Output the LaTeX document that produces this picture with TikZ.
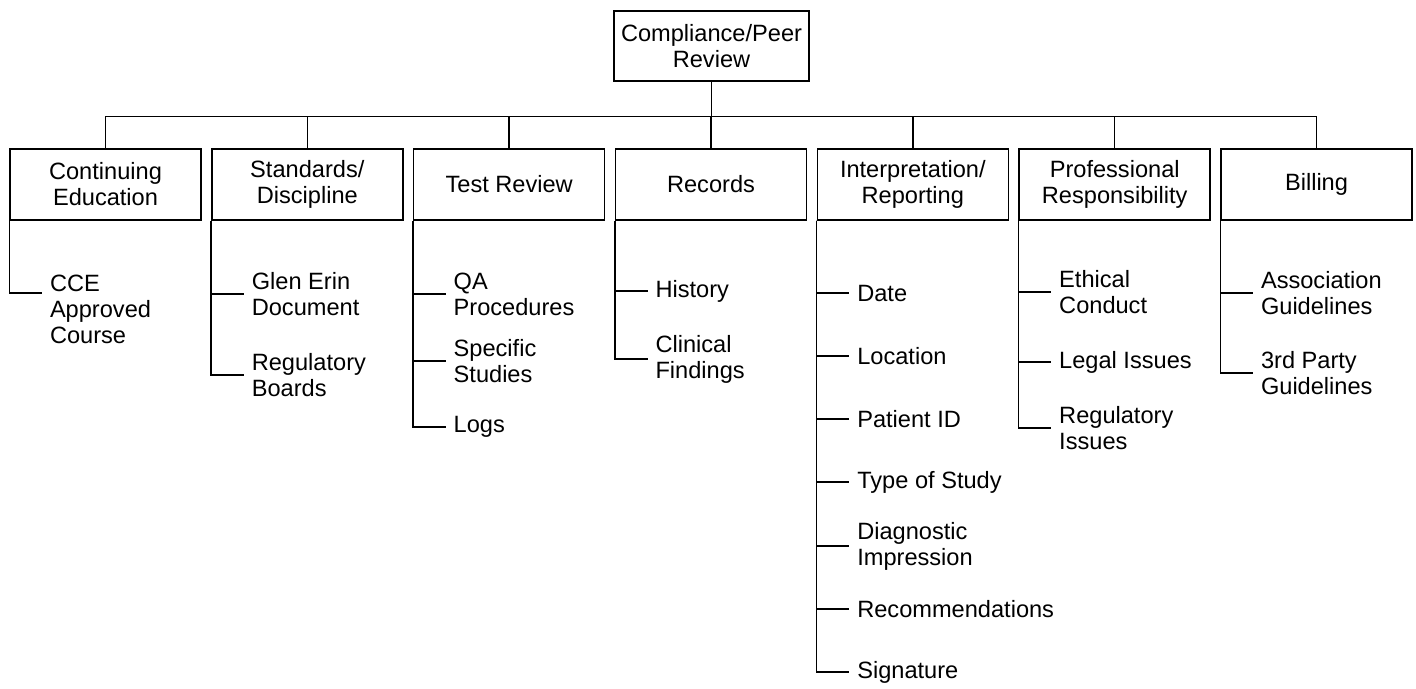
\documentclass[tikz,border=0pt]{standalone}
\usepackage{fontspec}
\setmainfont{Liberation Sans}
\newcommand\dfont{\fontsize{11.8pt}{13pt}\selectfont}
\begin{document}
\begin{tikzpicture}[x=0.5pt,y=-0.5pt,line width=0.75pt,
  box/.style={draw,minimum width=95.5pt,minimum height=35.5pt,inner sep=0pt,align=center,font=\dfont},
  rootbox/.style={box,minimum width=97.5pt,minimum height=35pt},
  leaf/.style={anchor=west,inner sep=0pt,outer xsep=4pt,align=left,font=\dfont}]
\useasboundingbox (0,0) rectangle (1416,689);
% root and categories
\node[rootbox] (root) at (711.5,46) {Compliance/Peer\\Review};
\node[box] (ce)  at (105.5,184.5)  {Continuing\\Education};
\node[box] (sd)  at (307.3,184.5)  {Standards/\\Discipline};
\node[box] (tr)  at (509.2,184.5)  {Test Review};
\node[box] (rec) at (711,184.5)    {Records};
\node[box] (ir)  at (912.8,184.5)  {Interpretation/\\Reporting};
\node[box] (pr)  at (1114.7,184.5) {Professional\\Responsibility};
\node[box] (bil) at (1316.5,184.5) {Billing};
\foreach \c in {ce,sd,tr,rec,ir,pr,bil}
  \draw (root.south) -- ++(0,35) -| (\c.north);
% Continuing Education
\node[leaf,anchor=north west] (cce) at (42,274) {CCE\\Approved\\Course};
\coordinate (cceC) at (42,293);
\draw (ce.south west) |- (cceC);
% Standards/Discipline
\node[leaf] (glen) at (243.8,294) {Glen Erin\\Document};
\node[leaf] (regb) at (243.8,375) {Regulatory\\Boards};
\foreach \l in {glen,regb} \draw (sd.south west) |- (\l.west);
% Test Review
\node[leaf] (qa)   at (445.7,294) {QA\\Procedures};
\node[leaf] (spec) at (445.7,361) {Specific\\Studies};
\node[leaf] (logs) at (445.7,427) {Logs};
\foreach \l in {qa,spec,logs} \draw (tr.south west) |- (\l.west);
% Records
\node[leaf] (hist) at (647.5,291) {History};
\node[leaf] (clin) at (647.5,359) {Clinical\\Findings};
\foreach \l in {hist,clin} \draw (rec.south west) |- (\l.west);
% Interpretation/Reporting
\node[leaf] (date) at (849.3,293) {Date};
\node[leaf] (loc)  at (849.3,356) {Location};
\node[leaf] (pid)  at (849.3,419) {Patient ID};
\node[leaf] (type) at (849.3,482) {Type of Study};
\node[leaf] (diag) at (849.3,546) {Diagnostic\\Impression};
\node[leaf] (reco) at (849.3,609) {Recommendations};
\node[leaf] (sig)  at (849.3,672) {Signature};
\foreach \l in {date,loc,pid,type,diag,reco,sig} \draw (ir.south west) |- (\l.west);
% Professional Responsibility
\node[leaf] (eth)  at (1051.2,292) {Ethical\\Conduct};
\node[leaf] (leg)  at (1051.2,362) {Legal Issues};
\node[leaf] (regi) at (1051.2,428) {Regulatory\\Issues};
\foreach \l in {eth,leg,regi} \draw (pr.south west) |- (\l.west);
% Billing
\node[leaf] (assoc) at (1253,293) {Association\\Guidelines};
\node[leaf] (third) at (1253,373) {3rd Party\\Guidelines};
\foreach \l in {assoc,third} \draw (bil.south west) |- (\l.west);
\end{tikzpicture}
\end{document}
